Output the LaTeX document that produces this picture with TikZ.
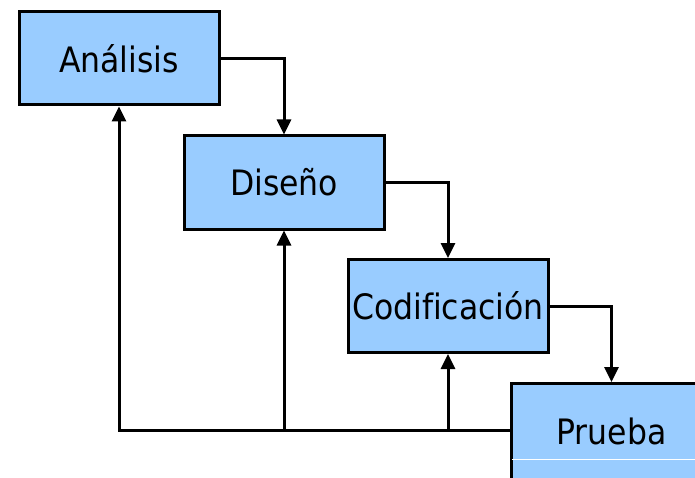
\documentclass[tikz,border=0pt]{standalone}
\usepackage{fontspec}
\setmainfont[Ligatures=CommonOff]{DejaVu Sans Condensed}
\usetikzlibrary{arrows.meta}
\definecolor{phasefill}{HTML}{99CCFF}
\begin{document}
\begin{tikzpicture}[x=1pt,y=-1pt,
  phasefont/.style={font=\fontsize{35}{40}\selectfont},
  phase/.style={draw=black, line width=3pt, fill=phasefill, rectangle,
    minimum width=200pt, minimum height=93pt, inner sep=0pt, phasefont},
  flow/.style={line width=3pt, -{Triangle[length=15pt,width=14pt]}}]
  \useasboundingbox (0,0) rectangle (695,478);
  \clip (0,0) rectangle (695,478);
  \node[phase] (ana) at (119,58.5)  {Análisis};
  \node[phase] (dis) at (284,182.5) {Diseño};
  \node[phase] (cod) at (448,306)   {Codificación};
  % last box runs past the lower edge
  \node[phase, minimum height=140pt, anchor=north] (pru) at (611.5,382) {};
  \node[phasefont, inner sep=0pt] (prutext) at (611.5,431) {Prueba};
  % thin light seam across the last box
  \draw[white, line width=1pt] (pru.west |- 0,459.3) ++(1.5pt,0) -- (695,459.3);
  % forward cascade
  \draw[flow] (ana.east) -| (dis.north);
  \draw[flow] (dis.east) -| (cod.north);
  \draw[flow] (cod.east) -| (pru.north);
  % feedback from testing to every earlier phase
  \coordinate (back) at (pru.west |- 0,430);
  \draw[flow] (back) -| (ana.south);
  \draw[flow] (dis.south |- back) -- (dis.south);
  \draw[flow] (cod.south |- back) -- (cod.south);
\end{tikzpicture}
\end{document}
